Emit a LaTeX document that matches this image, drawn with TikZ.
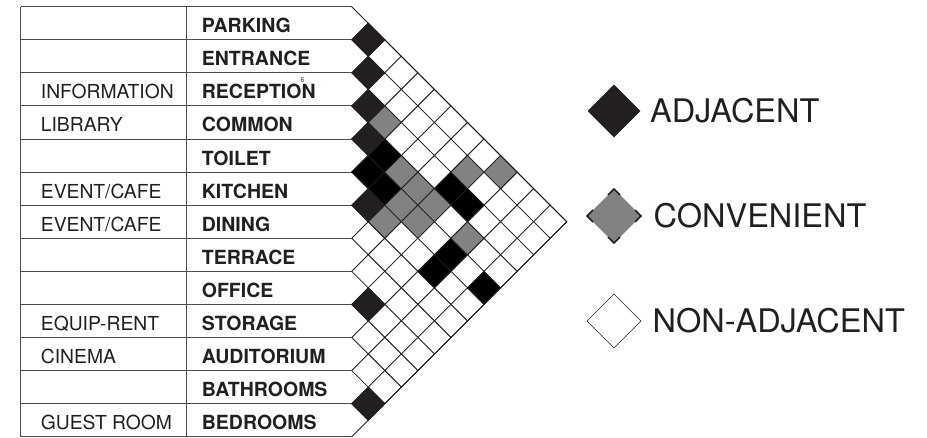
\documentclass[tikz,border=0pt]{standalone}
\usepackage{fontspec}
\setmainfont{TeX Gyre Heros}
\definecolor{ink}{HTML}{231F20}
\definecolor{midgrey}{RGB}{130,130,130}
\tikzset{
  tableline/.style={draw=black!70,line width=0.9pt},
  cellline/.style={draw=ink,line width=0.8pt},
  usetxt/.style={anchor=base west,inner sep=0pt,text=ink,font=\fontsize{19.3}{20}\selectfont},
  roomtxt/.style={anchor=base west,inner sep=0pt,text=ink,font=\fontsize{19.5}{20}\selectfont\bfseries},
  legtxt/.style={anchor=base west,inner sep=0pt,text=ink,font=\fontsize{32.5}{33}\selectfont},
}
\def\rowh{33.08}
\def\ytop{6.7}
\def\xr{351.7}
\newcommand\mcell[3]{%
  \filldraw[cellline,fill=#3] ({\xr+(#2-#1)*\rowh/2-\rowh/2}, {\ytop+(#1+#2+1)*\rowh/2})
    -- ++({\rowh/2},{-\rowh/2}) -- ++({\rowh/2},{\rowh/2}) -- ++({-\rowh/2},{\rowh/2}) -- cycle;}
\begin{document}
\begin{tikzpicture}[x=1pt,y=-1pt]
\useasboundingbox (0,0) rectangle (927,437);
% table lines
\foreach \k in {0,...,13}{
  \draw[tableline] (20.7,{\ytop+\k*\rowh}) -- (\xr,{\ytop+\k*\rowh});
}
\draw[tableline] (20.7,\ytop) -- (20.7,{\ytop+13*\rowh});
\draw[tableline] (186,\ytop) -- (186,{\ytop+13*\rowh});
% matrix: all cells white
\foreach \i in {0,...,11}{
  \pgfmathtruncatemacro\jstart{\i+1}
  \foreach \j in {\jstart,...,12}{
    \mcell{\i}{\j}{white}
  }
}
% adjacent (dark)
\foreach \i/\j in {0/1,1/2,2/3,3/4,5/6,8/9,11/12}{ \mcell{\i}{\j}{ink} }
% adjacent (black)
\foreach \i/\j in {4/5,3/5,4/6,2/8,2/9,4/10,5/10,4/12}{ \mcell{\i}{\j}{black} }
% convenient
\foreach \i/\j in {2/4,3/6,3/7,4/7,3/8,5/7,4/8,1/8,0/9,3/10}{ \mcell{\i}{\j}{midgrey} }
% outer edges
\draw[cellline] (\xr,\ytop) -- ({\xr+6.5*\rowh},{\ytop+6.5*\rowh}) -- (\xr,{\ytop+13*\rowh});
% room names
\foreach \k/\name in {0/PARKING,1/ENTRANCE,2/RECEPTION,3/COMMON,4/TOILET,5/KITCHEN,6/DINING,7/TERRACE,8/OFFICE,9/STORAGE,10/AUDITORIUM,11/BATHROOMS,12/BEDROOMS}{
  \node[roomtxt] (room\k) at (201.7,{\ytop+(\k+0.5)*\rowh+9.5}) {\name};
}
% uses
\foreach \k/\name in {2/INFORMATION,3/LIBRARY,5/EVENT\slash CAFE,6/EVENT\slash CAFE,9/EQUIP-RENT,10/CINEMA,12/GUEST ROOM}{
  \node[usetxt] (use\k) at (40.7,{\ytop+(\k+0.5)*\rowh+9.5}) {\name};
}
\node[inner sep=0pt,text=black!75,font=\fontsize{7}{7}\selectfont] (tiny6) at (302.5,80.5) {6};
% legend
\filldraw[draw=ink,fill=ink,line width=0.5pt] (588,111) -- (614,85) -- (640,111) -- (614,137) -- cycle;
\node[legtxt] (ladj) at (650,122) {ADJACENT};
\fill[midgrey] (587,216) -- (614,189) -- (641,216) -- (614,243) -- cycle;
\draw[ink,line width=1.6pt,line join=miter]
  (593,210) -- (587,216) -- (593,222)
  (608,195) -- (614,189) -- (620,195)
  (635,210) -- (641,216) -- (635,222)
  (608,237) -- (614,243) -- (620,237);
\node[legtxt] (lconv) at (653.5,227) {CONVENIENT};
\filldraw[draw=ink,fill=white,line width=0.6pt] (587,321) -- (614,294) -- (641,321) -- (614,348) -- cycle;
\node[legtxt] (lnon) at (652.5,332) {NON-ADJACENT};
\end{tikzpicture}
\end{document}
